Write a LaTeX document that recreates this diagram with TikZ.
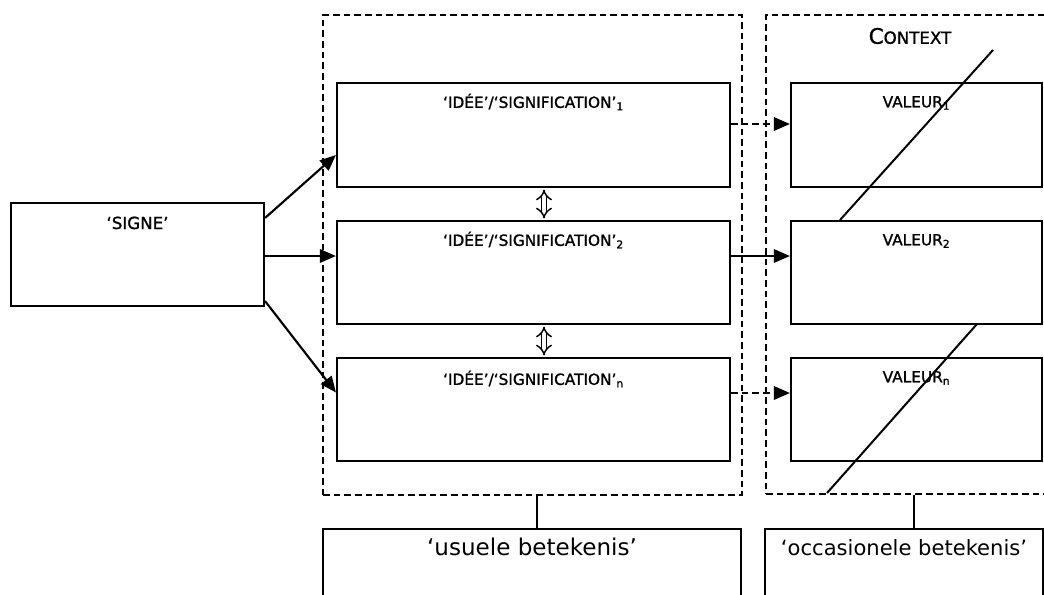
\documentclass[tikz,border=0pt]{standalone}
\usepackage{fontspec}
\setmainfont{DejaVu Sans}
\newfontfamily\semib[FakeBold=1.2]{DejaVu Sans}
\usetikzlibrary{arrows.meta,calc,fit}
\begin{document}
\begin{tikzpicture}[x=0.75pt,y=-0.75pt,
  box/.style={draw, line width=1.6pt, inner sep=0pt},
  dbox/.style={draw, line width=1.5pt, inner sep=0pt, dash pattern=on 5pt off 3pt},
  lbl/.style={inner sep=0pt, font=\semib\fontsize{11.5}{13}\selectfont},
  big/.style={inner sep=0pt, font=\fontsize{16.5}{19}\selectfont},
  conn/.style={line width=1.5pt},
  arr/.style={line width=1.6pt, -{Triangle[length=12pt,width=10pt]}},
  darr/.style={line width=1.6pt, dash pattern=on 5pt off 3pt, -{Triangle[length=12pt,width=10pt]}},
  dbl/.style={double, double distance=3pt, line width=1.1pt, {Implies[]}-{Implies[]}}
]
\useasboundingbox (0,0) rectangle (1044,594);
\fill[white] (0,0) rectangle (1044,594);

% dashed frames
\node[dbox, fit={(323,15) (742,495)}] (L) {};
\node[dbox, fit={(766,15) (1050,494)}] (R) {};

% signe
\node[box, fit={(11,203) (264,306)}] (S) {};
\node[lbl, font=\semib\fontsize{12.5}{14}\selectfont] (tS) at ($(S.north)+(0,21)$) {‘SIGNE’};

% idee boxes
\node[box, fit={(337,83) (730,187)}] (i1) {};
\node[box, fit={(337,221) (730,324)}] (i2) {};
\node[box, fit={(337,358) (730,461)}] (in) {};
\node[lbl] (ti1) at ($(i1.north)+(0,20)$) {‘IDÉE’/‘SIGNIFICATION’\textsubscript{1}};
\node[lbl] (ti2) at ($(i2.north)+(0,20)$) {‘IDÉE’/‘SIGNIFICATION’\textsubscript{2}};
\node[lbl] (tin) at ($(in.north)+(0,22)$) {‘IDÉE’/‘SIGNIFICATION’\textsubscript{n}};

% valeur boxes
\node[box, fit={(791,83) (1042,187)}] (v1) {};
\node[box, fit={(791,221) (1042,324)}] (v2) {};
\node[box, fit={(791,358) (1042,461)}] (vn) {};
\node[lbl] (tv1) at ($(v1.north)+(0,21)$) {VALEUR\textsubscript{1}};
\node[lbl] (tv2) at ($(v2.north)+(0,21)$) {VALEUR\textsubscript{2}};
\node[lbl] (tvn) at ($(vn.north)+(0,21)$) {VALEUR\textsubscript{n}};

\node[inner sep=0pt] (ctx) at (910,36) {\semib{\fontsize{16}{17}\selectfont C}{\fontsize{12.5}{14}\selectfont ONTEXT}};

% bottom boxes
\node[box, fit={(323,529) (741,620)}] (U) {};
\node[box, fit={(765,529) (1043,620)}] (O) {};
\node[big, font=\fontsize{17.3}{19}\selectfont] (tU) at ($(U.north)+(0,19)$) {‘usuele betekenis’};
\node[big, font=\fontsize{15.8}{19}\selectfont] (tO) at (904,548) {‘occasionele betekenis’};

% helper coordinates
\coordinate (y1) at (0,124);
\coordinate (ym) at (0,256);
\coordinate (yn) at (0,393);
\coordinate (xu) at (537,0);
\coordinate (xo) at (914,0);
\coordinate (xd) at (544,0);

% arrows from signe
\draw[arr] ($(S.north east)+(0,16)$) -- ($(i1.west)+(0,20)$);
\draw[arr] (S.east |- ym) -- (i2.west |- ym);
\draw[arr] ($(S.south east)+(0,-6)$) -- ($(in.west)+(0,-17)$);

% to valeurs
\draw[darr] (i1.east |- y1) -- (v1.west |- y1);
\draw[arr] (i2.east |- ym) -- (v2.west |- ym);
\draw[darr] (in.east |- yn) -- (vn.west |- yn);

% double arrows
\draw[dbl] ($(i1.south -| xd)+(0,1.5)$) -- ($(i2.north -| xd)+(0,-1.5)$);
\draw[dbl] ($(i2.south -| xd)+(0,1.5)$) -- ($(in.north -| xd)+(0,-1.5)$);

% strike lines
\draw[conn] (993,50) -- (840,220);
\draw[conn] (977,324) -- (827,493);

% links to bottom boxes
\draw[conn] (L.south -| xu) -- (U.north -| xu);
\draw[conn] (R.south -| xo) -- (O.north -| xo);
\end{tikzpicture}
\end{document}
